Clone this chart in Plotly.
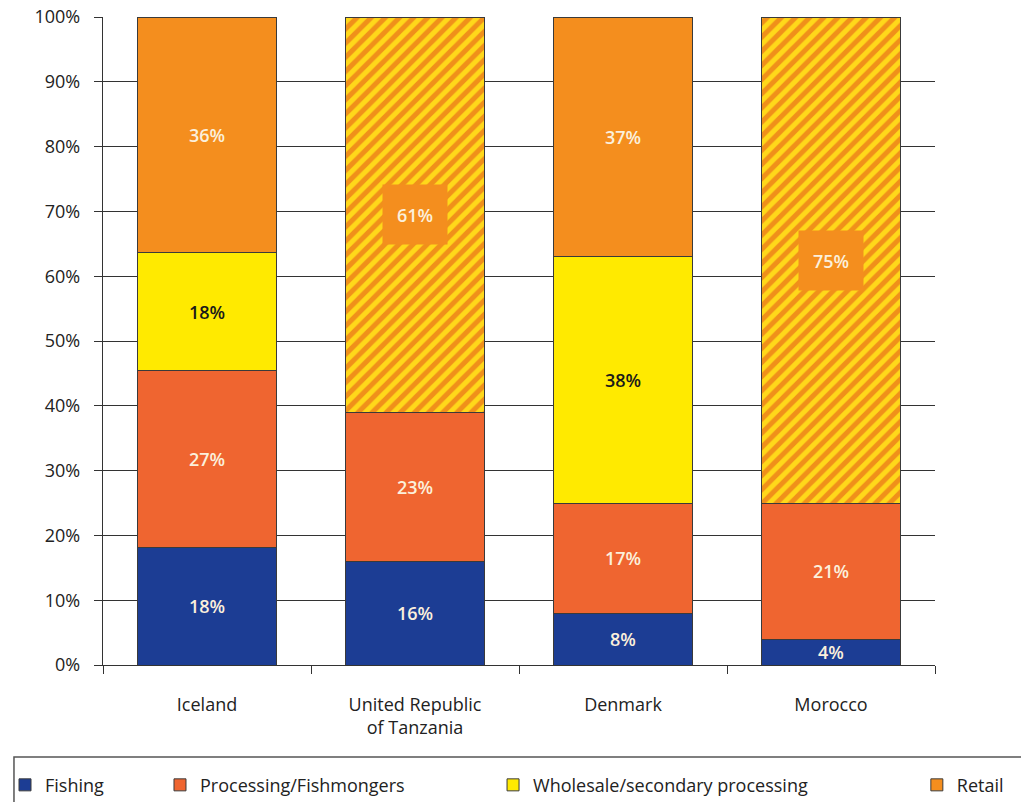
import plotly.graph_objects as go

countries = ["Iceland", "United Republic<br>of Tanzania", "Denmark", "Morocco"]
fishing = [18, 16, 8, 4]
processing = [27, 23, 17, 21]
wholesale = [18, None, 38, None]
retail = [36, 61, 37, 75]
hatched = [False, True, False, True]

FONT = "Open Sans"
C_FISH = "#1C3D94"
C_PROC = "#EF6530"
C_WHOLE = "#FFEA00"
C_RETAIL = "#F48E1E"
LINE = dict(color="#3a3a3a", width=1)
LIGHT = "#FBF0DC"
LBL = 18

def labels(vals, skip=None):
    out = []
    for i, v in enumerate(vals):
        if v is None or (skip and skip[i]):
            out.append("")
        else:
            out.append(f"{v}%")
    return out

fig = go.Figure()
common = dict(textposition="inside", insidetextanchor="middle", textangle=0,
              cliponaxis=False, hoverinfo="skip", showlegend=True)
fig.add_trace(go.Bar(x=countries, y=fishing, name="Fishing", text=labels(fishing),
                     marker=dict(color=C_FISH, line=LINE),
                     textfont=dict(color=LIGHT, size=LBL, family=FONT, weight=600), legend="legend", **common))
fig.add_trace(go.Bar(x=countries, y=processing, name="Processing/Fishmongers", text=labels(processing),
                     marker=dict(color=C_PROC, line=LINE),
                     textfont=dict(color=LIGHT, size=LBL, family=FONT, weight=600), legend="legend2", **common))
fig.add_trace(go.Bar(x=countries, y=wholesale, name="Wholesale/secondary processing", text=labels(wholesale),
                     marker=dict(color=C_WHOLE, line=LINE),
                     textfont=dict(color="#1a1a1a", size=LBL, family=FONT, weight=600), legend="legend3", **common))
fig.add_trace(go.Bar(x=countries, y=retail, name="Retail", text=labels(retail, hatched),
                     marker=dict(color=C_RETAIL, line=LINE,
                                 pattern=dict(shape=["/" if h else "" for h in hatched],
                                              fgcolor=["#F0901A" if h else C_RETAIL for h in hatched],
                                              bgcolor=["#FFD81A" if h else C_RETAIL for h in hatched],
                                              size=10, solidity=0.5, fillmode="replace")),
                     textfont=dict(color=LIGHT, size=LBL, family=FONT, weight=600), legend="legend4", **common))

annotations = []
for i, h in enumerate(hatched):
    if not h:
        continue
    parts = [fishing[i], processing[i], wholesale[i] or 0, retail[i]]
    total = sum(parts)
    base = sum(parts[:3]) / total * 100
    mid = base + retail[i] / total * 100 / 2
    annotations.append(dict(x=countries[i], y=mid, xref="x", yref="y", text=f"{retail[i]}%",
                            showarrow=False, bgcolor=C_RETAIL, width=62, height=57,
                            font=dict(color=LIGHT, size=LBL, family=FONT, weight=600)))

leg = dict(orientation="h", yanchor="middle", y=0.021, xanchor="left",
           xref="container", yref="container",
           bgcolor="rgba(0,0,0,0)", borderwidth=0,
           font=dict(family=FONT, size=18, color="#222"))

fig.update_layout(
    width=1021, height=802,
    margin=dict(l=103, r=86, t=17, b=137, autoexpand=False),
    paper_bgcolor="white", plot_bgcolor="white",
    showlegend=True,
    barmode="stack", barnorm="percent", bargap=0.33,
    font=dict(family=FONT, size=18, color="#222"),
    uniformtext=dict(mode="show", minsize=LBL),
    annotations=annotations,
    legend=dict(leg, x=0.0049),
    legend2=dict(leg, x=0.1567),
    legend3=dict(leg, x=0.4829),
    legend4=dict(leg, x=0.898),
    shapes=[dict(type="rect", xref="paper", yref="paper", x0=-0.107, x1=1.12,
                 y0=-0.142, y1=-0.25, line=dict(color="#555", width=1.5),
                 fillcolor="rgba(0,0,0,0)", layer="below")],
    xaxis=dict(type="category", tickson="boundaries", ticks="outside", ticklen=8,
               tickcolor="#333", tickwidth=1.3, showline=True, linecolor="#333", linewidth=1.3,
               automargin=False,
               ticklabelstandoff=23, tickfont=dict(size=18, family=FONT, color="#222")),
    yaxis=dict(range=[0, 100], dtick=10, ticksuffix="%", ticks="outside", ticklen=8,
               tickcolor="#333", tickwidth=1.3, showgrid=True, gridcolor="#333", gridwidth=1.3,
               showline=True, linecolor="#333", linewidth=1.3, zeroline=False, automargin=False,
               ticklabelstandoff=10, tickfont=dict(size=18, family=FONT, color="#222")),
)

fig.write_html("out.html")
